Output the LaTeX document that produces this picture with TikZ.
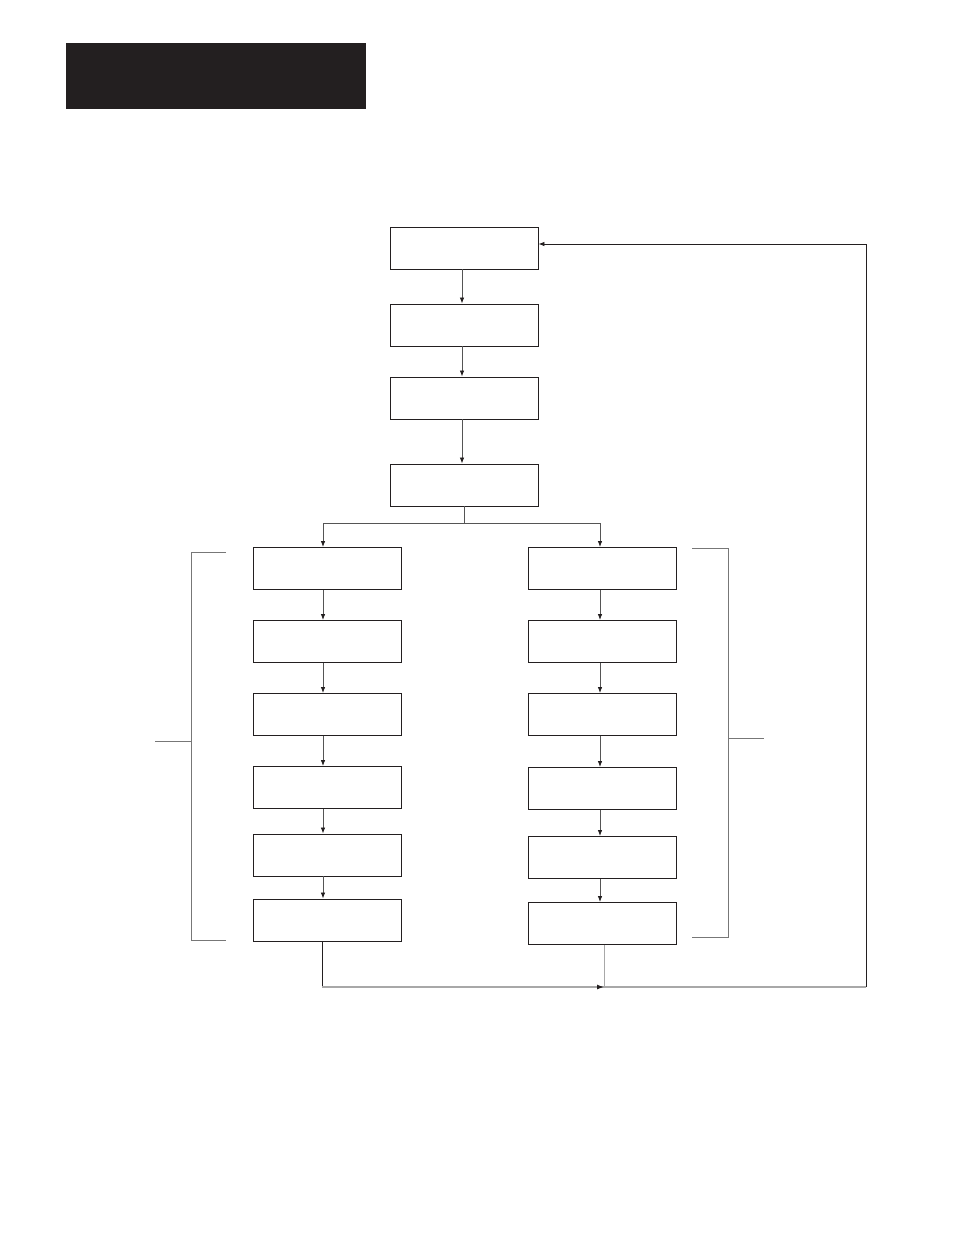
\documentclass[tikz,border=0pt]{standalone}
\usetikzlibrary{arrows.meta,calc}
\definecolor{ink}{HTML}{231F20}
\definecolor{conn}{HTML}{555555}
\definecolor{lite}{HTML}{A8A8A8}
\begin{document}
\begin{tikzpicture}[x=1pt,y=-1pt,
  box/.style={draw=ink,line width=0.9pt,rectangle,minimum width=148pt,minimum height=42pt,inner sep=0pt},
  link/.style={draw=conn,line width=0.8pt},
  arr/.style={link,-{Latex[length=6pt,width=4.5pt,color=ink]}},
  brk/.style={draw=conn!80,line width=0.8pt}]
\useasboundingbox (0,0) rectangle (954,1235);
\fill[ink] (66,43) rectangle (366,109);
% top column
\node[box] (T1) at (464,248) {};
\node[box] (T2) at (464,325) {};
\node[box] (T3) at (464,398) {};
\node[box] (T4) at (464,485) {};
% left column
\node[box] (L1) at (327.5,568.5) {};
\node[box] (L2) at (327.5,641.5) {};
\node[box] (L3) at (327.5,714.5) {};
\node[box] (L4) at (327.5,787.5) {};
\node[box] (L5) at (327.5,855) {};
\node[box] (L6) at (327.5,920) {};
% right column
\node[box] (R1) at (602.5,568.5) {};
\node[box] (R2) at (602.5,641.5) {};
\node[box] (R3) at (602.5,714.5) {};
\node[box] (R4) at (602.5,788.5) {};
\node[box] (R5) at (602.5,857.5) {};
\node[box] (R6) at (602.5,923.5) {};
% top arrows
\foreach \a/\b in {T1/T2,T2/T3,T3/T4}
  \draw[arr] ([xshift=-2pt]\a.south) -- ([xshift=-2pt]\b.north);
% split
\coordinate (S) at (464,523);
\draw[link] (T4.south) -- (S);
\draw[arr] (S) -| ([xshift=-4.5pt]L1.north);
\draw[arr] (S) -| ([xshift=-2.5pt]R1.north);
% column arrows
\foreach \a/\b in {L1/L2,L2/L3,L3/L4,L4/L5,L5/L6}
  \draw[arr] ([xshift=-4.5pt]\a.south) -- ([xshift=-4.5pt]\b.north);
\foreach \a/\b in {R1/R2,R2/R3,R3/R4,R4/R5,R5/R6}
  \draw[arr] ([xshift=-2.5pt]\a.south) -- ([xshift=-2.5pt]\b.north);
% bottom return
\coordinate (BL) at (322,987);
\coordinate (BM) at (604,987);
\coordinate (BR) at (866,987);
\coordinate (TR) at (866,244);
\draw[link,draw=ink] ([xshift=-5.5pt]L6.south) -- (BL);
\draw[draw=lite,line width=1.2pt] (BL) -- (BM);
\draw[-{Latex[length=7pt,width=5pt,color=ink]},draw=lite,line width=1.2pt] ($(BM)+(-12,0)$) -- (BM);
\draw[draw=lite,line width=1pt] ([xshift=1.5pt]R6.south) -- (BM);
\draw[draw=lite,line width=1.2pt] (BM) -- (BR);
\draw[link,draw=ink] (BR) -- (TR);
\draw[arr,draw=ink] (TR) -- (TR -| T1.east);
% brackets
\draw[brk] (226,552) -- (191,552) -- (191,940) -- (226,940);
\draw[brk] (155,741) -- (191,741);
\draw[brk] (692,548) -- (728,548) -- (728,937) -- (692,937);
\draw[brk] (728,738) -- (764,738);
\end{tikzpicture}
\end{document}
